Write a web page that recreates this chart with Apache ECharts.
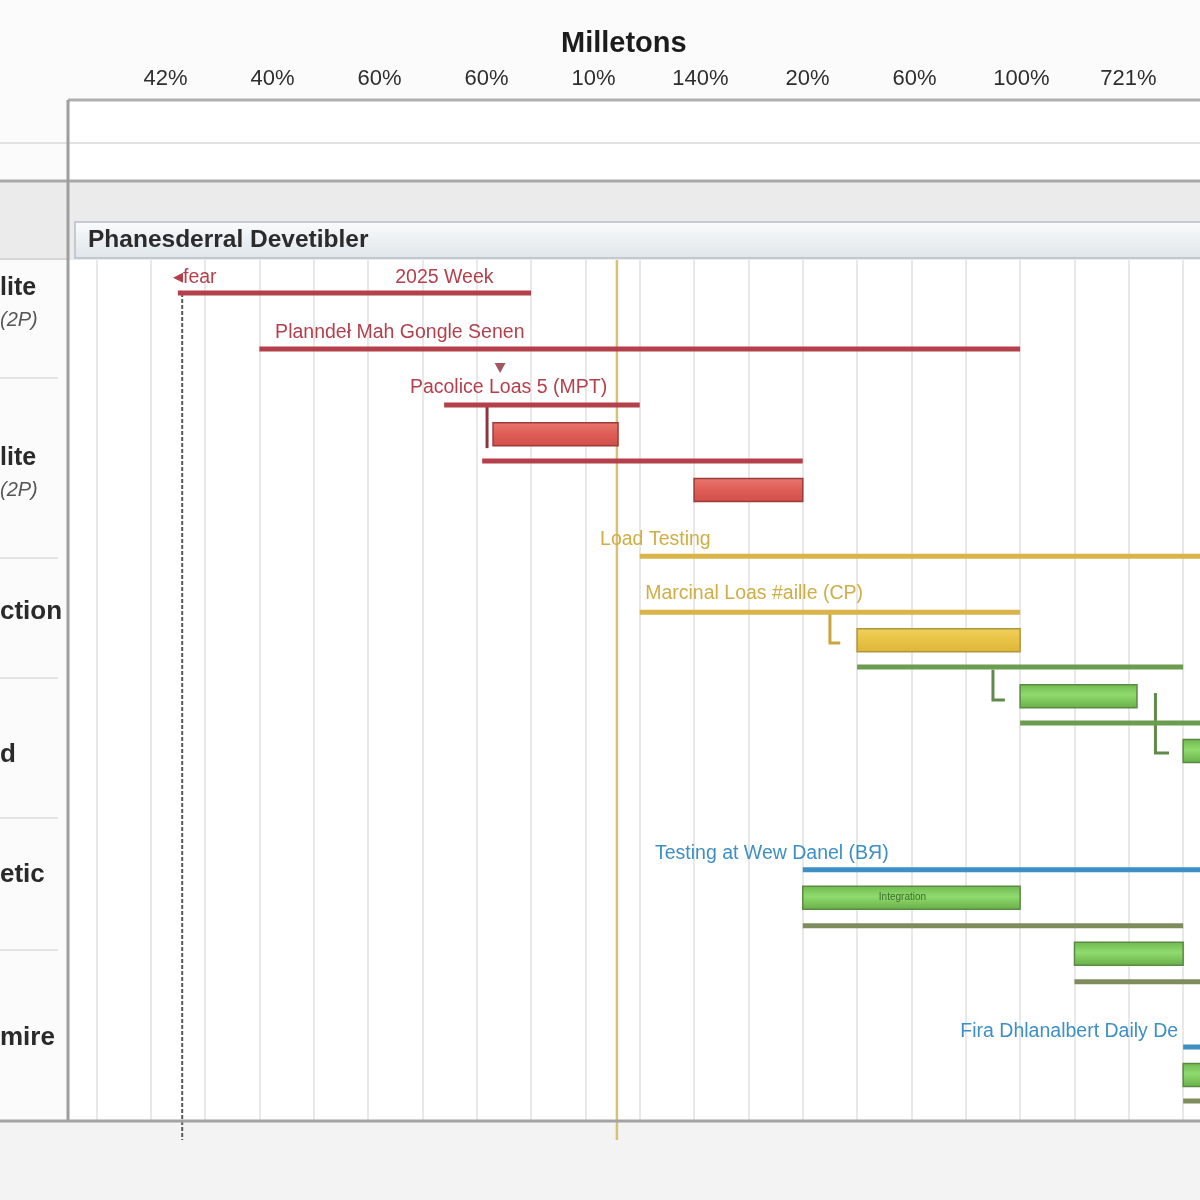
<!DOCTYPE html>
<html><head><meta charset="utf-8">
<script src="https://cdn.jsdelivr.net/npm/echarts@6/dist/echarts.min.js"></script>
<style>html,body{margin:0;padding:0;background:#fcfcfc}#c{width:1200px;height:1200px}</style>
</head><body><div id="c"></div>
<script>
// ---------- data ----------
const chartTitle = 'Milletons';
const phaseTitle = 'Phanesderral Devetibler';
const topLabels = ['42%', '40%', '60%', '60%', '10%', '140%', '20%', '60%', '100%', '721%'];
const rowLabels = ['lite', '(2P)', 'lite', '(2P)', 'ction', 'd', 'etic', 'mire'];

// [start, end, lane]
const redLines    = [[2.5, 9, 1], [4, 18, 3], [7.4, 11, 5], [8.1, 14, 7]];
const redBars     = [[8.3, 10.6, 6.04], [12, 14, 8.04]];
const yellowLines = [[11, 22, 10.4], [11, 18, 12.4]];
const yellowBars  = [[15, 18, 13.4]];
const greenLines  = [[15, 21, 14.36], [18, 22, 16.36]];
const greenBars   = [[18, 20.15, 15.4], [21, 22, 17.36], [14, 18, 22.6], [19, 21, 24.6], [21, 22, 28.93]];
const oliveLines  = [[14, 21, 23.6], [19, 22, 25.6], [21, 22, 29.86]];
const blueLines   = [[14, 22, 21.6], [21, 22, 27.93]];

// connectors [x, yFrom, yTo, xTo]
const redLinks    = [[8.19, 5, 6.54, 8.19]];
const yellowLinks = [[14.5, 12.4, 13.5, 14.69]];
const greenLinks  = [[17.5, 14.46, 15.54, 17.72], [20.49, 15.29, 17.43, 20.74]];

// vertical guides [x, yFrom, yTo]
const todayGuide  = [[2.58, 1, 31.25]];
const phaseGuide  = [[10.58, -0.18, 31.25]];

// notes [x, lane, text]
const redNotes    = [[2.41, 0.46, '◂fear'], [6.5, 0.46, '2025 Week'], [4.29, 2.43, 'Planndeł Mah Gongle Senen'], [6.77, 4.39, 'Pacolice Loas 5 (MPT)']];
const yellowNotes = [[10.27, 9.82, 'Load Testing'], [11.1, 11.75, 'Marcinal Loas #aille (CP)']];
const blueNotes   = [[11.28, 21.04, 'Testing at Wew Danel (BЯ)'], [16.9, 27.4, 'Fira Dhlanalbert Daily De']];
const greenNotes  = [[15.4, 22.6, 'Integration']];
const depArrows   = [[8.43, 3.68]];

// ---------- rendering ----------
const chart = echarts.init(document.getElementById('c'));
const G = echarts.graphic;
const FONT = '"Liberation Sans", Arial, sans-serif';

function spanSeries(data, h, fill, stroke, lw) {
  return {
    type: 'custom', xAxisIndex: 0, yAxisIndex: 0, z: 5, data: data,
    renderItem: function (p, api) {
      const a = api.coord([api.value(0), api.value(2)]);
      const b = api.coord([api.value(1), api.value(2)]);
      return { type: 'rect', shape: { x: a[0], y: a[1] - h / 2, width: b[0] - a[0], height: h },
        style: { fill: fill, stroke: stroke, lineWidth: lw || 0 } };
    }
  };
}
function grad(c1, c2, c3) {
  return new G.LinearGradient(0, 0, 0, 1, [{ offset: 0, color: c1 }, { offset: 0.45, color: c2 }, { offset: 1, color: c3 }]);
}
function linkSeries(data, color) {
  return {
    type: 'custom', xAxisIndex: 0, yAxisIndex: 0, z: 4, data: data,
    renderItem: function (p, api) {
      const a = api.coord([api.value(0), api.value(1)]);
      const b = api.coord([api.value(0), api.value(2)]);
      const c = api.coord([api.value(3), api.value(2)]);
      return { type: 'polyline', shape: { points: [a, b, c] }, style: { stroke: color, lineWidth: 3, fill: null } };
    }
  };
}
function guideSeries(data, color, dash, width) {
  return {
    type: 'custom', xAxisIndex: 0, yAxisIndex: 0, z: 3, clip: false, data: data,
    renderItem: function (p, api) {
      const a = api.coord([api.value(0), api.value(1)]);
      const b = api.coord([api.value(0), api.value(2)]);
      return { type: 'line', shape: { x1: a[0], y1: a[1], x2: b[0], y2: b[1] },
        style: { stroke: color, lineWidth: width, lineDash: dash } };
    }
  };
}
function noteSeries(data, color, size) {
  return {
    type: 'custom', xAxisIndex: 0, yAxisIndex: 0, z: 6, data: data.map(d => [d[0], d[1]]),
    renderItem: function (p, api) {
      const a = api.coord([api.value(0), api.value(1)]);
      return { type: 'text', x: a[0], y: a[1],
        style: { text: data[p.dataIndex][2], fill: color, font: 'normal ' + size + 'px ' + FONT,
          align: 'left', verticalAlign: 'middle' } };
    }
  };
}

const leftLabelPos = [[288, 25, 'bold'], [320, 20, 'italic'], [458, 25, 'bold'], [490, 20, 'italic'], [612, 26, 'bold'], [755, 26, 'bold'], [875, 26, 'bold'], [1038, 26, 'bold']];
const graphics = [
  { type: 'rect', z: -20, shape: { x: 0, y: 0, width: 1200, height: 1200 }, style: { fill: '#fbfbfb' } },
  { type: 'rect', z: -19, shape: { x: 70, y: 100, width: 1130, height: 80 }, style: { fill: '#ffffff' } },
  { type: 'rect', z: -19, shape: { x: 0, y: 180, width: 1200, height: 80 }, style: { fill: '#ebebeb' } },
  { type: 'rect', z: -19, shape: { x: 70, y: 260, width: 1130, height: 860 }, style: { fill: '#ffffff' } },
  { type: 'rect', z: -19, shape: { x: 0, y: 1121, width: 1200, height: 79 }, style: { fill: '#f3f3f3' } },
  { type: 'line', z: -18, shape: { x1: 0, y1: 143, x2: 1200, y2: 143 }, style: { stroke: '#e2e2e2', lineWidth: 2 } },
  { type: 'line', z: -18, shape: { x1: 0, y1: 181, x2: 1200, y2: 181 }, style: { stroke: '#a9a9a9', lineWidth: 3 } },
  { type: 'line', z: -18, shape: { x1: 0, y1: 259, x2: 70, y2: 259 }, style: { stroke: '#d6d6d6', lineWidth: 2 } },
  { type: 'rect', z: 1, shape: { x: 75, y: 222, width: 1135, height: 36 },
    style: { fill: new G.LinearGradient(0, 0, 0, 1, [{ offset: 0, color: '#fafbfc' }, { offset: 1, color: '#dfe5ea' }]), stroke: '#b7bec6', lineWidth: 1.5 } },
  { type: 'text', z: 2, x: 88, y: 240, style: { text: phaseTitle, fill: '#2b2b2b', font: 'bold 24.5px ' + FONT, verticalAlign: 'middle' } },
  { type: 'line', z: 8, shape: { x1: 68, y1: 100, x2: 1200, y2: 100 }, style: { stroke: '#b0b0b0', lineWidth: 3 } },
  { type: 'line', z: 8, shape: { x1: 68, y1: 100, x2: 68, y2: 1121 }, style: { stroke: '#9e9e9e', lineWidth: 3 } },
  { type: 'line', z: 8, shape: { x1: 0, y1: 1121, x2: 1200, y2: 1121 }, style: { stroke: '#a3a3a3', lineWidth: 3 } }
];
[378, 558, 678, 818, 950].forEach(y => graphics.push({ type: 'line', z: -17, shape: { x1: 0, y1: y, x2: 58, y2: y }, style: { stroke: '#e3e3e3', lineWidth: 2 } }));
rowLabels.forEach((t, i) => {
  const p = leftLabelPos[i];
  graphics.push({ type: 'text', z: 2, x: 0, y: p[0], style: { text: t, fill: p[2] === 'italic' ? '#555' : '#2a2a2a',
    font: (p[2] === 'italic' ? 'italic ' : 'bold ') + p[1] + 'px ' + FONT, verticalAlign: 'middle' } });
});

const option = {
  animation: false,
  backgroundColor: '#fbfbfb',
  title: { text: chartTitle, left: 556, top: 24, textStyle: { fontSize: 29, fontWeight: 'bold', color: '#1c1c1c', fontFamily: FONT } },
  graphic: { elements: graphics },
  grid: [
    { left: 42, right: 0, top: 260, bottom: 80 },
    { left: 112, right: 18, top: 94, height: 2 }
  ],
  xAxis: [
    { type: 'value', gridIndex: 0, min: 0, max: 21.31, interval: 1,
      axisLine: { show: false }, axisTick: { show: false }, axisLabel: { show: false },
      splitLine: { show: true, showMinLine: false, showMaxLine: false, lineStyle: { color: '#e8e8e8', width: 2 } } },
    { type: 'category', gridIndex: 1, position: 'top', data: topLabels,
      axisLine: { show: false }, axisTick: { show: false }, splitLine: { show: false },
      axisLabel: { color: '#2e2e2e', fontSize: 22, margin: 4, fontFamily: FONT } }
  ],
  yAxis: [
    { type: 'value', gridIndex: 0, inverse: true, min: -0.18, max: 30.54, show: false },
    { type: 'value', gridIndex: 1, show: false }
  ],
  series: [
    guideSeries(todayGuide, '#5a5a5a', [4, 2], 2),
    guideSeries(phaseGuide, '#d6c175', null, 2.5),
    spanSeries(redLines, 5, '#b3404b'),
    spanSeries(redBars, 23, grad('#e77870', '#e06058', '#d04e48'), '#9d3b3b', 1.5),
    spanSeries(yellowLines, 5, '#d9b549'),
    spanSeries(yellowBars, 23, grad('#f0d160', '#e9c545', '#ddb43a'), '#b0963a', 1.5),
    spanSeries(greenLines, 5, '#6c9c4f'),
    spanSeries(greenBars, 23, grad('#6fb84f', '#8fdb6d', '#68ad48'), '#5b8a44', 1.5),
    spanSeries(oliveLines, 5, '#7f8c5c'),
    spanSeries(blueLines, 5, '#3d8fc4'),
    linkSeries(redLinks, '#8f3540'),
    linkSeries(yellowLinks, '#c9a53e'),
    linkSeries(greenLinks, '#5f8a4a'),
    noteSeries(redNotes, '#b4404c', 19.5),
    noteSeries(yellowNotes, '#cfae45', 19.5),
    noteSeries(blueNotes, '#3d8fc4', 19.5),
    noteSeries(greenNotes, '#3e6b2c', 10),
    { type: 'scatter', xAxisIndex: 0, yAxisIndex: 0, z: 7, data: depArrows, symbol: 'triangle', symbolRotate: 180,
      symbolSize: [11, 10], itemStyle: { color: '#8a2d35' } }
  ]
};
chart.setOption(option);
</script>
</body></html>
